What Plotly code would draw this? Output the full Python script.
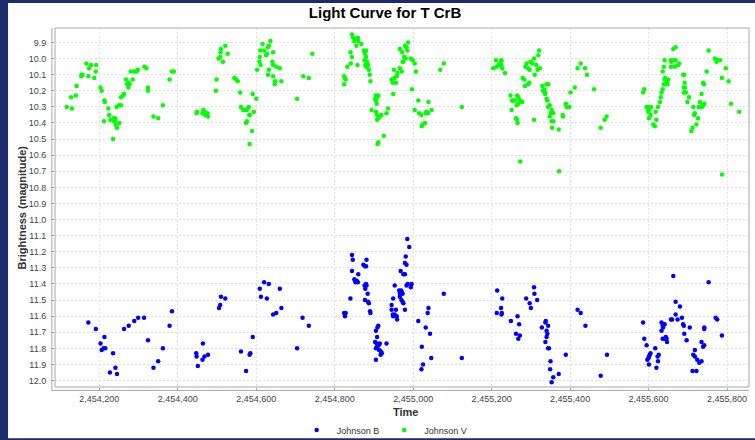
import plotly.graph_objects as go

# ---------------- data (Julian Date, magnitude) ----------------
b_jd = [2454172, 2454191, 2454213, 2454203, 2454206, 2454211, 2454215, 2454235, 2454227, 2454241,
        2454245, 2454263, 2454275, 2454289, 2454299, 2454314, 2454324, 2454338, 2454350, 2454362,
        2454379, 2454385, 2454447, 2454448, 2454464, 2454451, 2454463, 2454468, 2454477, 2454505,
        2454508, 2454510, 2454521, 2454561, 2454574, 2454583, 2454585, 2454591, 2454609, 2454612,
        2454620, 2454632, 2454627, 2454643, 2454651, 2454660, 2454664, 2454704, 2454718, 2454734,
        2454824, 2454826, 2454828, 2454840, 2454844, 2454846, 2454844, 2454850, 2454852, 2454853,
        2454856, 2454859, 2454860, 2454876, 2454880, 2454878, 2454881, 2454873, 2454877, 2454880,
        2454881, 2454884, 2454877, 2454885, 2454887, 2454890, 2454891, 2454905, 2454909, 2454911,
        2454908, 2454903, 2454907, 2454908, 2454905, 2454912, 2454915, 2454913, 2454918, 2454920,
        2454917, 2454905, 2454932, 2454945, 2454945, 2454956, 2454948, 2454949, 2454958, 2454959,
        2454953, 2454949, 2454953, 2454964, 2454966, 2454969, 2454971, 2454973, 2454966, 2454970,
        2454975, 2454973, 2454979, 2454968, 2454975, 2454979, 2454979, 2454983, 2454981, 2454985,
        2454990, 2454983, 2454986, 2454994, 2454996, 2455013, 2455032, 2455043, 2455037, 2455039,
        2455022, 2455025, 2455021, 2455046, 2455078, 2455124, 2455214, 2455227, 2455213, 2455224,
        2455225, 2455226, 2455249, 2455266, 2455270, 2455262, 2455272, 2455268, 2455288, 2455297,
        2455300, 2455308, 2455309, 2455316, 2455328, 2455337, 2455338, 2455344, 2455340, 2455342,
        2455340, 2455337, 2455344, 2455346, 2455350, 2455349, 2455357, 2455353, 2455371, 2455389,
        2455419, 2455427, 2455439, 2455478, 2455494, 2455586, 2455589, 2455595, 2455597, 2455600,
        2455603, 2455605, 2455601, 2455601, 2455617, 2455620, 2455623, 2455626, 2455624, 2455633,
        2455636, 2455633, 2455637, 2455641, 2455644, 2455636, 2455647, 2455641, 2455646, 2455657,
        2455660, 2455663, 2455669, 2455669, 2455674, 2455680, 2455685, 2455688, 2455690, 2455691,
        2455697, 2455705, 2455714, 2455718, 2455718, 2455724, 2455729, 2455735, 2455712, 2455722,
        2455735, 2455739, 2455742, 2455742, 2455742, 2455753, 2455771, 2455775, 2455787]
b_mag = [11.64, 11.68, 11.73, 11.77, 11.81, 11.80, 11.80, 11.83, 11.95, 11.92,
         11.96, 11.68, 11.66, 11.63, 11.61, 11.61, 11.75, 11.92, 11.88, 11.80,
         11.66, 11.57, 11.83, 11.85, 11.77, 11.91, 11.87, 11.85, 11.84, 11.55,
         11.53, 11.48, 11.49, 11.82, 11.94, 11.84, 11.83, 11.73, 11.43, 11.48,
         11.39, 11.40, 11.49, 11.59, 11.58, 11.43, 11.55, 11.80, 11.61, 11.66,
         11.58, 11.60, 11.58, 11.49, 11.22, 11.25, 11.32, 11.37, 11.38, 11.39,
         11.38, 11.39, 11.34, 11.41, 11.40, 11.43, 11.41, 11.28, 11.29, 11.29,
         11.25, 11.46, 11.50, 11.51, 11.52, 11.57, 11.58, 11.69, 11.67, 11.66,
         11.73, 11.76, 11.77, 11.79, 11.80, 11.78, 11.77, 11.81, 11.82, 11.83,
         11.84, 11.87, 11.77, 11.53, 11.56, 11.56, 11.59, 11.60, 11.60, 11.62,
         11.59, 11.49, 11.41, 11.44, 11.46, 11.44, 11.45, 11.46, 11.48, 11.50,
         11.52, 11.51, 11.56, 11.32, 11.34, 11.34, 11.27, 11.28, 11.23, 11.12,
         11.17, 11.41, 11.40, 11.42, 11.40, 11.63, 11.67, 11.71, 11.58, 11.55,
         11.79, 11.90, 11.93, 11.86, 11.46, 11.86, 11.44, 11.49, 11.58, 11.55,
         11.59, 11.58, 11.63, 11.60, 11.65, 11.71, 11.72, 11.74, 11.49, 11.52,
         11.55, 11.42, 11.46, 11.50, 11.67, 11.64, 11.63, 11.66, 11.69, 11.71,
         11.73, 11.76, 11.80, 11.80, 11.88, 11.93, 11.98, 12.01, 11.96, 11.84,
         11.56, 11.58, 11.66, 11.97, 11.84, 11.64, 11.74, 11.78, 11.87, 11.86,
         11.84, 11.83, 11.90, 11.85, 11.80, 11.92, 11.85, 11.84, 11.88, 11.64,
         11.66, 11.69, 11.67, 11.65, 11.73, 11.74, 11.76, 11.74, 11.74, 11.62,
         11.62, 11.35, 11.51, 11.59, 11.62, 11.54, 11.61, 11.65, 11.66, 11.71,
         11.75, 11.67, 11.84, 11.85, 11.81, 11.87, 11.89, 11.88, 11.94, 11.94,
         11.76, 11.79, 11.78, 11.67, 11.68, 11.39, 11.61, 11.62, 11.72]

v_jd = [2454117, 2454130, 2454128, 2454140, 2454142, 2454155, 2454154, 2454157, 2454167, 2454174,
        2454179, 2454192, 2454172, 2454191, 2454187, 2454203, 2454206, 2454213, 2454214, 2454223,
        2454225, 2454212, 2454228, 2454236, 2454240, 2454238, 2454242, 2454245, 2454251, 2454241,
        2454235, 2454244, 2454250, 2454255, 2454255, 2454260, 2454263, 2454271, 2454275, 2454277,
        2454274, 2454268, 2454285, 2454280, 2454289, 2454298, 2454295, 2454315, 2454320, 2454324,
        2454324, 2454338, 2454350, 2454362, 2454379, 2454385, 2454390, 2454449, 2454448, 2454463,
        2454465, 2454468, 2454470, 2454476, 2454477, 2454497, 2454499, 2454504, 2454508, 2454509,
        2454510, 2454515, 2454521, 2454527, 2454544, 2454549, 2454553, 2454559, 2454561, 2454567,
        2454570, 2454575, 2454578, 2454581, 2454582, 2454584, 2454594, 2454591, 2454600, 2454576,
        2454574, 2454589, 2454583, 2454602, 2454608, 2454609, 2454611, 2454610, 2454616, 2454620,
        2454627, 2454630, 2454632, 2454636, 2454643, 2454625, 2454630, 2454632, 2454641, 2454643,
        2454643, 2454648, 2454647, 2454651, 2454660, 2454664, 2454704, 2454720, 2454734, 2454743,
        2454824, 2454826, 2454824, 2454828, 2454832, 2454841, 2454840, 2454844, 2454844, 2454847,
        2454850, 2454854, 2454859, 2454860, 2454855, 2454868, 2454858, 2454874, 2454880, 2454877,
        2454880, 2454876, 2454882, 2454878, 2454880, 2454885, 2454887, 2454889, 2454891, 2454905,
        2454908, 2454911, 2454905, 2454907, 2454903, 2454894, 2454905, 2454908, 2454915, 2454911,
        2454919, 2454908, 2454932, 2454936, 2454925, 2454911, 2454909, 2454945, 2454948, 2454952,
        2454956, 2454958, 2454951, 2454960, 2454966, 2454971, 2454973, 2454966, 2454972, 2454977,
        2454979, 2454983, 2454987, 2454985, 2454981, 2454975, 2454949, 2454994, 2454999, 2455004,
        2455007, 2454997, 2455013, 2455004, 2455015, 2455021, 2455032, 2455034, 2455038, 2455047,
        2455039, 2455024, 2455030, 2455022, 2455069, 2455078, 2455124, 2455204, 2455211, 2455213,
        2455218, 2455223, 2455225, 2455227, 2455225, 2455234, 2455248, 2455252, 2455255, 2455259,
        2455265, 2455268, 2455272, 2455278, 2455264, 2455268, 2455251, 2455262, 2455265, 2455266,
        2455273, 2455279, 2455283, 2455285, 2455293, 2455296, 2455286, 2455289, 2455293, 2455297,
        2455299, 2455304, 2455308, 2455310, 2455317, 2455323, 2455319, 2455321, 2455314, 2455308,
        2455329, 2455334, 2455331, 2455337, 2455340, 2455336, 2455344, 2455340, 2455342, 2455348,
        2455344, 2455353, 2455357, 2455351, 2455348, 2455353, 2455357, 2455354, 2455371, 2455372,
        2455382, 2455381, 2455389, 2455391, 2455398, 2455401, 2455412, 2455419, 2455427, 2455438,
        2455443, 2455461, 2455478, 2455488, 2455493, 2455586, 2455589, 2455595, 2455599, 2455603,
        2455606, 2455601, 2455599, 2455605, 2455601, 2455612, 2455616, 2455620, 2455618, 2455624,
        2455629, 2455631, 2455633, 2455636, 2455639, 2455641, 2455642, 2455646, 2455648, 2455650,
        2455636, 2455639, 2455641, 2455657, 2455657, 2455658, 2455663, 2455669, 2455667, 2455675,
        2455678, 2455663, 2455669, 2455688, 2455691, 2455692, 2455690, 2455690, 2455695, 2455693,
        2455699, 2455703, 2455714, 2455716, 2455718, 2455722, 2455726, 2455712, 2455709, 2455728,
        2455731, 2455735, 2455736, 2455739, 2455742, 2455739, 2455741, 2455748, 2455753, 2455769,
        2455773, 2455777, 2455782, 2455787, 2455797, 2455804, 2455810, 2455831, 2455787]
v_mag = [10.30, 10.31, 10.24, 10.23, 10.17, 10.10, 10.11, 10.10, 10.03, 10.06,
         10.04, 10.04, 10.11, 10.08, 10.12, 10.18, 10.20, 10.26, 10.27, 10.31,
         10.35, 10.39, 10.38, 10.37, 10.37, 10.39, 10.41, 10.43, 10.40, 10.38,
         10.50, 10.30, 10.29, 10.29, 10.24, 10.23, 10.22, 10.16, 10.15, 10.16,
         10.18, 10.13, 10.13, 10.08, 10.08, 10.07, 10.08, 10.05, 10.06, 10.18,
         10.20, 10.36, 10.37, 10.29, 10.13, 10.08, 10.08, 10.33, 10.34, 10.34,
         10.32, 10.33, 10.35, 10.34, 10.36, 10.20, 10.13, 10.00, 9.99, 9.96,
         9.94, 10.02, 9.92, 9.97, 10.12, 10.13, 10.14, 10.21, 10.30, 10.32,
         10.32, 10.32, 10.31, 10.30, 10.35, 10.35, 10.33, 10.22, 10.25, 10.39,
         10.40, 10.45, 10.53, 10.07, 10.02, 9.99, 10.04, 9.95, 9.91, 9.95,
         9.97, 9.93, 9.92, 9.89, 9.96, 9.98, 10.10, 10.07, 10.02, 10.04,
         10.11, 10.14, 10.16, 10.05, 10.06, 10.14, 10.25, 10.11, 10.12, 9.97,
         10.11, 10.12, 10.16, 10.13, 10.05, 10.03, 9.96, 9.99, 9.85, 9.87,
         9.89, 9.88, 9.87, 9.89, 9.92, 9.91, 10.04, 9.95, 9.95, 9.97,
         9.99, 10.01, 10.02, 10.04, 10.05, 10.04, 10.07, 10.10, 10.14, 10.23,
         10.24, 10.23, 10.26, 10.28, 10.25, 10.32, 10.33, 10.35, 10.36, 10.37,
         10.35, 10.38, 10.34, 10.31, 10.48, 10.52, 10.53, 10.13, 10.15, 10.12,
         10.15, 10.11, 10.07, 10.09, 10.06, 10.08, 10.02, 9.94, 9.96, 9.99,
         9.92, 9.93, 9.90, 9.95, 10.00, 10.02, 10.22, 10.00, 10.01, 10.03,
         10.08, 10.19, 10.26, 10.32, 10.34, 10.35, 10.34, 10.33, 10.34, 10.32,
         10.27, 10.41, 10.40, 10.42, 10.07, 10.03, 10.30, 10.06, 10.01, 10.05,
         10.04, 10.02, 10.01, 10.06, 10.04, 10.09, 10.23, 10.26, 10.26, 10.26,
         10.23, 10.24, 10.26, 10.27, 10.29, 10.28, 10.32, 10.37, 10.38, 10.40,
         10.64, 10.12, 10.13, 10.17, 10.16, 10.15, 10.05, 10.03, 10.06, 10.07,
         10.02, 10.03, 10.00, 10.10, 10.07, 10.06, 9.98, 9.95, 10.04, 10.38,
         10.17, 10.19, 10.20, 10.21, 10.16, 10.22, 10.16, 10.25, 10.26, 10.29,
         10.30, 10.32, 10.34, 10.34, 10.36, 10.39, 10.39, 10.43, 10.44, 10.70,
         10.36, 10.35, 10.28, 10.30, 10.30, 10.21, 10.18, 10.06, 10.03, 10.06,
         10.10, 10.19, 10.43, 10.38, 10.36, 10.21, 10.19, 10.30, 10.31, 10.30,
         10.30, 10.32, 10.33, 10.35, 10.37, 10.41, 10.42, 10.38, 10.33, 10.30,
         10.27, 10.24, 10.21, 10.19, 10.16, 10.13, 10.12, 10.15, 10.16, 10.13,
         10.08, 10.05, 10.01, 10.01, 10.05, 10.02, 10.01, 10.01, 10.05, 10.04,
         10.03, 9.94, 9.93, 10.10, 10.10, 10.15, 10.18, 10.21, 10.21, 10.18,
         10.27, 10.24, 10.30, 10.35, 10.34, 10.41, 10.37, 10.43, 10.45, 10.30,
         10.27, 10.22, 10.30, 10.29, 10.28, 10.15, 10.16, 10.08, 9.95, 10.00,
         10.02, 10.01, 10.01, 10.12, 10.06, 10.14, 10.28, 10.33, 10.72]

series_names = ["Johnson B", "Johnson V"]
series_colors = ["#0000ff", "#00ff00"]

FONT = "Liberation Sans, Arial, sans-serif"

fig = go.Figure()
fig.add_trace(go.Scatter(x=b_jd, y=b_mag, mode="markers", name=series_names[0],
                         marker=dict(size=4.5, color=series_colors[0], line=dict(width=0))))
fig.add_trace(go.Scatter(x=v_jd, y=v_mag, mode="markers", name=series_names[1],
                         marker=dict(size=4.5, color=series_colors[1], line=dict(width=0))))

grid = dict(showgrid=True, gridcolor="#e2e2e2", griddash="2px,2px", gridwidth=1,
            zeroline=False, showline=False, ticks="outside", ticklen=3, tickcolor="#a8a8a8",
            tickfont=dict(family=FONT, size=9, color="#444444"))

fig.update_xaxes(range=[2454087, 2455856], dtick=200, tick0=0, tickformat=",d",
                 automargin=False, **grid)
fig.update_yaxes(range=[12.04, 9.81], dtick=0.1, tick0=0, tickformat=".1f",
                 ticklabelstandoff=3, automargin=False, **grid)

shapes = [
    # white chart panel over dark page background
    dict(type="rect", xref="paper", yref="paper", x0=-0.0677, x1=1.02, y0=-0.143, y1=1.0697,
         fillcolor="white", line=dict(width=0), layer="below"),
    # plot outline
    dict(type="rect", xref="paper", yref="paper", x0=0, x1=1, y0=0, y1=1,
         line=dict(color="#a8a8a8", width=1), layer="above"),
    # offset axis lines
    dict(type="line", xref="paper", yref="paper", x0=-0.0045, x1=-0.0045, y0=-0.0095, y1=1,
         line=dict(color="#a8a8a8", width=1)),
    dict(type="line", xref="paper", yref="paper", x0=-0.0045, x1=1, y0=-0.0095, y1=-0.0095,
         line=dict(color="#a8a8a8", width=1)),
]

annotations = [
    dict(text="<b>Time</b>", xref="paper", yref="paper", x=0.505, y=-0.0705,
         xanchor="center", yanchor="middle", showarrow=False,
         font=dict(family=FONT, size=11, color="#333333")),
    dict(text="<b>Brightness (magnitude)</b>", xref="paper", yref="paper", x=-0.0476, y=0.5,
         xanchor="center", yanchor="middle", textangle=-90, showarrow=False,
         font=dict(family=FONT, size=11, color="#333333")),
]

fig.update_layout(
    width=755, height=440, autosize=False,
    margin=dict(l=55, r=6, t=28, b=53),
    paper_bgcolor="#1d2a6c",
    plot_bgcolor="white",
    title=dict(text="<b>Light Curve for T CrB</b>", x=0.51, xref="container", xanchor="center",
               y=0.9705, yref="container", yanchor="middle",
               font=dict(family=FONT, size=15, color="#000000")),
    showlegend=True,
    legend=dict(orientation="h", x=0.475, xanchor="center", xref="paper",
                y=0.0227, yref="container", yanchor="middle",
                font=dict(family=FONT, size=9, color="#333333"), bgcolor="rgba(0,0,0,0)",
                itemwidth=30, tracegroupgap=0),
    shapes=shapes,
    annotations=annotations,
)

fig.write_html("out.html", config={"displayModeBar": False},
               post_script="document.body.style.margin='0';")
